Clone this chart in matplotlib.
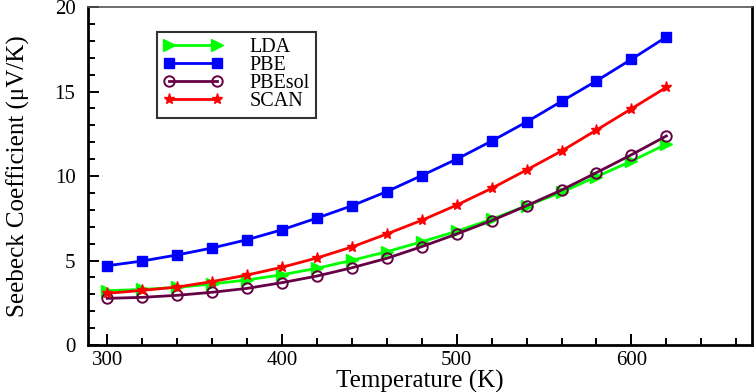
import matplotlib
matplotlib.use("Agg")
import matplotlib.pyplot as plt
from matplotlib.ticker import MultipleLocator

plt.rcParams['font.family'] = ['Liberation Serif', 'DejaVu Serif']

temperature = [300, 320, 340, 360, 380, 400, 420, 440, 460, 480, 500, 520, 540, 560, 580, 600, 620]

lda = [3.21, 3.29, 3.41, 3.61, 3.85, 4.16, 4.54, 5.01, 5.52, 6.11, 6.73, 7.44, 8.24, 9.04, 9.96, 10.88, 11.89]
pbe = [4.69, 4.97, 5.33, 5.74, 6.23, 6.82, 7.51, 8.24, 9.08, 10.03, 11.0, 12.07, 13.2, 14.42, 15.63, 16.91, 18.23]
pbesol = [2.76, 2.82, 2.94, 3.12, 3.35, 3.69, 4.08, 4.57, 5.13, 5.82, 6.57, 7.36, 8.24, 9.17, 10.2, 11.26, 12.37]
scan = [3.06, 3.23, 3.43, 3.75, 4.14, 4.6, 5.15, 5.8, 6.57, 7.38, 8.28, 9.27, 10.36, 11.48, 12.72, 13.98, 15.25]

fig = plt.figure(figsize=(7.56, 3.92), dpi=100)
ax = fig.add_axes([0.1164, 0.1199, 0.8783, 0.8621])

ax.plot(temperature, lda, color='#00ff00', marker='>', markersize=8.5, lw=2, label='LDA')
ax.plot(temperature, pbe, color='#0000ff', marker='s', markersize=7, lw=2, label='PBE')
ax.plot(temperature, pbesol, color='#660044', marker='o', markersize=7.5, mfc='none', mew=1.4, lw=2, label='PBEsol')
ax.plot(temperature, scan, color='#ff0000', marker='*', markersize=8, lw=2, label='SCAN')

ax.set_xlim(289, 669)
ax.set_ylim(0, 20)
ax.xaxis.set_major_locator(MultipleLocator(100))
ax.xaxis.set_minor_locator(MultipleLocator(20))
ax.yaxis.set_major_locator(MultipleLocator(5))
ax.yaxis.set_minor_locator(MultipleLocator(1))
ax.tick_params(which='both', direction='in', top=False, right=False, labelsize=15, width=1.4)
ax.tick_params(which='major', length=8)
ax.tick_params(which='minor', length=5)
ax.tick_params(axis='x', pad=4)
ax.tick_params(axis='y', pad=9)

for s in ['left', 'bottom', 'right']:
    ax.spines[s].set_linewidth(2)
ax.spines['top'].set_linewidth(1.2)
ax.spines['top'].set_color('#555555')

ax.set_xlabel('Temperature (K)', fontsize=18)
ax.xaxis.set_label_coords(0.5, -0.075)
ax.set_ylabel('Seebeck Coefficient (μV/K)', fontsize=18)
ax.yaxis.set_label_coords(-0.088, 0.5)

# legend box sits at roughly (157, 32) px in the reference
leg = ax.legend(loc='upper left', bbox_to_anchor=(0.104, 0.926), borderaxespad=0, fontsize=14.5,
                numpoints=2, handlelength=3.0, handletextpad=1.3, frameon=True, fancybox=False,
                edgecolor='black', borderpad=0.3, labelspacing=-0.05)
leg.get_frame().set_linewidth(1.5)

fig.savefig('out.png', dpi=100)
